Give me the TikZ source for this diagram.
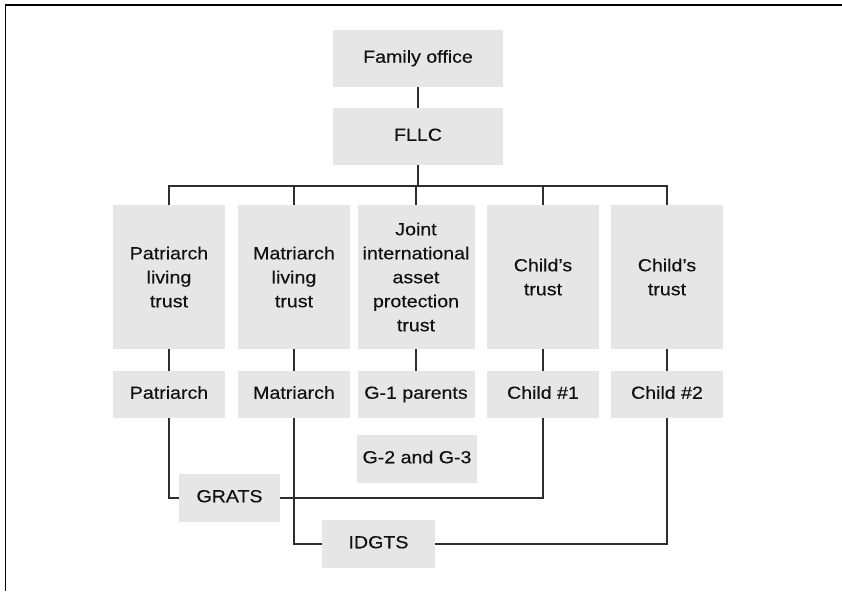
\documentclass[tikz,border=0pt]{standalone}
\usepackage{fontspec}
\setmainfont{Liberation Sans}[FakeStretch=1.12, FakeBold=0.3]
\begin{document}
\begin{tikzpicture}[x=1pt,y=-1pt,
  box/.style={fill=boxgray, inner sep=0pt, align=center, text=textdark,
    font=\fontsize{17.5}{24}\selectfont},
  one/.style={box, text height=12.5pt, text depth=4pt},
  link/.style={draw=linedark, line width=1.2pt}]
\definecolor{boxgray}{HTML}{E6E6E6}
\definecolor{linedark}{HTML}{2E2E2E}
\definecolor{textdark}{HTML}{111111}
\useasboundingbox (0,0) rectangle (842,591);
\draw[line width=1.5pt, draw=black] (842,5) -- (5.5,5) -- (5.5,591);
% top
\node[one, minimum width=170pt, minimum height=57pt] (fo) at (418,58.5) {Family office};
\node[one, minimum width=170pt, minimum height=57pt] (fllc) at (418,136.5) {FLLC};
% trusts
\node[box, minimum width=112pt, minimum height=144pt] (t1) at (169,277) {Patriarch\\living\\trust};
\node[box, minimum width=112pt, minimum height=144pt] (t2) at (294,277) {Matriarch\\living\\trust};
\node[box, minimum width=117pt, minimum height=144pt] (t3) at (416,277) {Joint\\international\\asset\\protection\\trust};
\node[box, minimum width=112pt, minimum height=144pt] (t4) at (543,277) {Child’s\\trust};
\node[box, minimum width=112pt, minimum height=144pt] (t5) at (667,277) {Child’s\\trust};
% people
\node[one, minimum width=112pt, minimum height=47pt] (p1) at (169,394.5) {Patriarch};
\node[one, minimum width=112pt, minimum height=47pt] (p2) at (294,394.5) {Matriarch};
\node[one, minimum width=117pt, minimum height=47pt] (p3) at (416,394.5) {G-1 parents};
\node[one, minimum width=112pt, minimum height=47pt] (p4) at (543,394.5) {Child \#1};
\node[one, minimum width=112pt, minimum height=47pt] (p5) at (667,394.5) {Child \#2};
\node[one, minimum width=120pt, minimum height=48pt] (g23) at (417,459) {G-2 and G-3};
\node[one, minimum width=101pt, minimum height=48pt] (grats) at (229.5,498) {GRATS};
\node[one, minimum width=113pt, minimum height=48pt] (idgts) at (378.5,544) {IDGTS};
% connectors
\coordinate (bus) at (418,186);
\draw[link] (fo.south) -- (fllc.north);
\draw[link] (fllc.south) -- (bus);
\draw[link] (t1.north) -- (t1.north |- bus) -- (t5.north |- bus) -- (t5.north);
\draw[link] (t2.north) -- (t2.north |- bus);
\draw[link] (t3.north) -- (t3.north |- bus);
\draw[link] (t4.north) -- (t4.north |- bus);
\draw[link] (t1.south) -- (p1.north);
\draw[link] (t2.south) -- (p2.north);
\draw[link] (t3.south) -- (p3.north);
\draw[link] (t4.south) -- (p4.north);
\draw[link] (t5.south) -- (p5.north);
\draw[link] (p1.south) |- (grats.west);
\draw[link] (grats.east) -| (p4.south);
\draw[link] (p2.south) |- (idgts.west);
\draw[link] (idgts.east) -| (p5.south);
\end{tikzpicture}
\end{document}
